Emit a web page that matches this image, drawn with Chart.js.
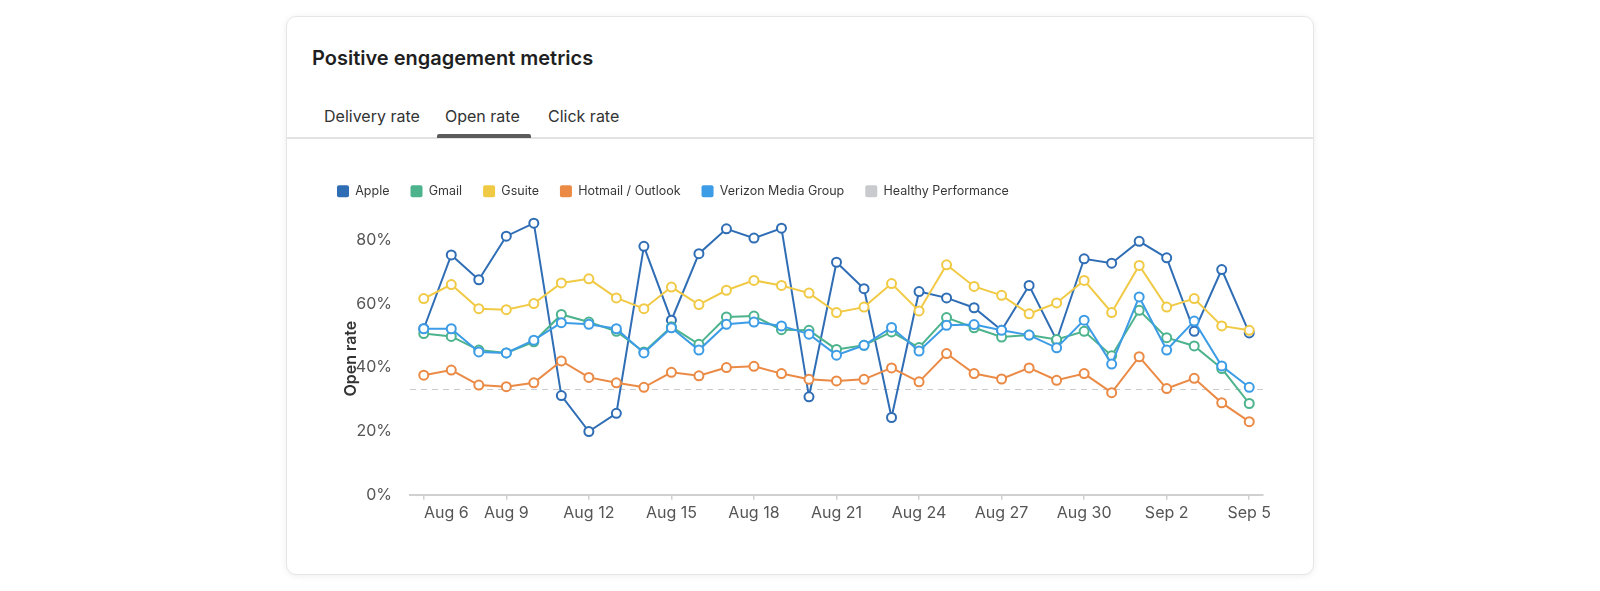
<!DOCTYPE html>
<html>
<head>
<meta charset="utf-8">
<script src="https://cdn.jsdelivr.net/npm/chart.js@4.4.1/dist/chart.umd.min.js"></script>
<style>
  html, body { margin:0; padding:0; background:#ffffff; width:1600px; height:591px; overflow:hidden; font-family: Inter, "Noto Sans", sans-serif; }
  .card { position:absolute; left:286px; top:16px; width:1026px; height:557px; border:1px solid #e6e6e6; border-radius:10px; background:#fff; box-shadow:0 1px 7px rgba(0,0,0,0.07); }
  .title { position:absolute; left:25px; top:29px; font-size:20px; line-height:24px; font-weight:600; color:#1f1f1f; white-space:nowrap; }
  .tab { position:absolute; top:89px; font-size:16px; line-height:20px; color:#333; white-space:nowrap; }
  .divider { position:absolute; left:0; right:0; top:120px; height:2px; background:#e2e2e2; }
  .active { position:absolute; left:150px; width:94px; top:117px; height:4px; border-radius:2px 2px 0 0; background:#5b5b5b; }
  #wrap { position:absolute; left:316px; top:164px; width:957px; height:363px; }
</style>
</head>
<body>
<div class="card">
  <div class="title">Positive engagement metrics</div>
  <div class="tab" style="left:37px">Delivery rate</div>
  <div class="tab" style="left:158px">Open rate</div>
  <div class="tab" style="left:261px">Click rate</div>
  <div class="divider"></div>
  <div class="active"></div>
</div>
<div id="wrap"><canvas id="c" width="957" height="363"></canvas></div>
<script>
const categories = ["Aug 6","Aug 7","Aug 8","Aug 9","Aug 10","Aug 11","Aug 12","Aug 13","Aug 14","Aug 15","Aug 16","Aug 17","Aug 18","Aug 19","Aug 20","Aug 21","Aug 22","Aug 23","Aug 24","Aug 25","Aug 26","Aug 27","Aug 28","Aug 29","Aug 30","Aug 31","Sep 1","Sep 2","Sep 3","Sep 4","Sep 5"];
const tickEvery = 3;
const apple   = [52.2,75.4,67.6,81.3,85.4,31.2,19.9,25.6,78.1,54.9,75.8,83.6,80.7,83.8,30.8,73.1,64.8,24.3,63.9,61.9,58.8,51.7,65.8,48.6,74.2,72.8,79.7,74.5,51.4,70.8,50.9];
const gmail   = [50.7,49.8,45.5,44.6,48.1,56.7,54.3,51.4,44.9,52.8,47.3,55.9,56.2,51.9,51.7,45.7,47.0,51.2,46.3,55.7,52.5,49.6,50.2,48.8,51.4,43.7,58.0,49.4,46.8,39.7,28.7];
const gsuite  = [61.7,66.1,58.5,58.2,60.1,66.6,67.9,61.9,58.5,65.3,59.8,64.3,67.4,65.8,63.4,57.3,59.0,66.4,57.8,72.3,65.5,62.7,56.9,60.3,67.4,57.3,72.1,59.0,61.7,53.1,51.7];
const hotmail = [37.6,39.2,34.5,34.0,35.2,42.1,36.9,35.2,33.8,38.5,37.4,40.0,40.4,38.1,36.3,35.8,36.3,39.9,35.5,44.4,38.1,36.4,39.9,36.0,38.1,32.1,43.4,33.4,36.6,28.9,23.0];
const verizon = [52.2,52.2,44.9,44.6,48.6,54.1,53.6,52.2,44.6,52.5,45.5,53.6,54.3,53.1,50.5,43.9,47.0,52.6,45.2,53.3,53.5,51.7,50.2,46.2,54.9,41.1,62.2,45.5,54.6,40.5,33.8];
const healthyRate = 33.2;
const yTicks = [0, 20, 40, 60, 80];
const yMax = 85.6;

const FONT = 'Inter, "Noto Sans", sans-serif';

function series(label, data, color, order) {
  return { label, data, borderColor: color, backgroundColor: color, borderWidth: 2,
    pointRadius: 4.5, pointBorderWidth: 2, pointBackgroundColor: '#ffffff', pointBorderColor: color,
    tension: 0, clip: false, order };
}

const healthyLine = {
  id: 'healthyLine',
  beforeDatasetsDraw(chart) {
    const { ctx, chartArea: a, scales: { y } } = chart;
    const py = Math.round(y.getPixelForValue(healthyRate)) + 0.5;
    ctx.save();
    ctx.strokeStyle = '#c9cbd0';
    ctx.lineWidth = 1;
    ctx.setLineDash([6, 5]);
    ctx.beginPath();
    ctx.moveTo(a.left, py);
    ctx.lineTo(a.right, py);
    ctx.stroke();
    ctx.restore();
  }
};

const legendGap = {
  id: 'legendGap',
  beforeInit(chart) {
    const fit = chart.legend.fit;
    chart.legend.fit = function () { fit.call(this); this.height += 15; };
  }
};

new Chart(document.getElementById('c'), {
  type: 'line',
  data: {
    labels: categories,
    datasets: [
      series('Apple', apple, '#2f6db5', 5),
      series('Gmail', gmail, '#4db38d', 4),
      series('Gsuite', gsuite, '#f1ca45', 3),
      series('Hotmail / Outlook', hotmail, '#ea8a45', 2),
      series('Verizon Media Group', verizon, '#3d9ce6', 1),
      { label: 'Healthy Performance', data: [], borderColor: '#c9cacd', backgroundColor: '#c9cacd', borderWidth: 0, pointRadius: 0, order: 0 }
    ]
  },
  plugins: [healthyLine, legendGap],
  options: {
    responsive: false,
    animation: false,
    layout: { padding: { left: 0, right: 10, top: 0, bottom: 0 } },
    plugins: {
      tooltip: { enabled: false },
      legend: {
        position: 'top', align: 'start',
        labels: {
          boxWidth: 12, boxHeight: 12, padding: 21, color: '#383838',
          font: { family: FONT, size: 12.5 },
          useBorderRadius: true, borderRadius: 2,
          sort: (a, b) => a.datasetIndex - b.datasetIndex,
          generateLabels(chart) {
            const items = Chart.defaults.plugins.legend.labels.generateLabels(chart);
            return items.map(it => {
              const c = chart.data.datasets[it.datasetIndex].borderColor;
              return Object.assign({}, it, { fillStyle: c, strokeStyle: c, lineWidth: 0, lineDash: [], hidden: false });
            });
          }
        }
      }
    },
    scales: {
      x: {
        offset: true,
        grid: { display: true, drawOnChartArea: false, drawTicks: true, tickLength: 5, color: '#d0d0d0', lineWidth: 1.5 },
        border: { display: true, color: '#d0d0d0', width: 2 },
        afterFit(scale) { scale.paddingLeft = 0; scale.paddingRight = 0; },
        ticks: {
          autoSkip: false, maxRotation: 0, minRotation: 0, padding: 4, color: '#555',
          font: { family: FONT, size: 16 },
          callback(v, i) {
            if (i % tickEvery !== 0) return null;
            const l = categories[i];
            return i === 0 ? ' '.repeat(10) + l : l;
          }
        }
      },
      y: {
        min: 0, max: yMax,
        grid: { display: false },
        border: { display: false },
        afterBuildTicks(scale) { scale.ticks = yTicks.map(v => ({ value: v })); },
        afterFit(scale) { scale.width = 94; },
        ticks: { padding: 10, color: '#555', font: { family: FONT, size: 16 }, callback: v => v + '%' },
        title: { display: true, text: 'Open rate', color: '#333', font: { family: FONT, size: 16, weight: '600' }, padding: { top: 26, bottom: 4 } }
      }
    }
  }
});
</script>
</body>
</html>
